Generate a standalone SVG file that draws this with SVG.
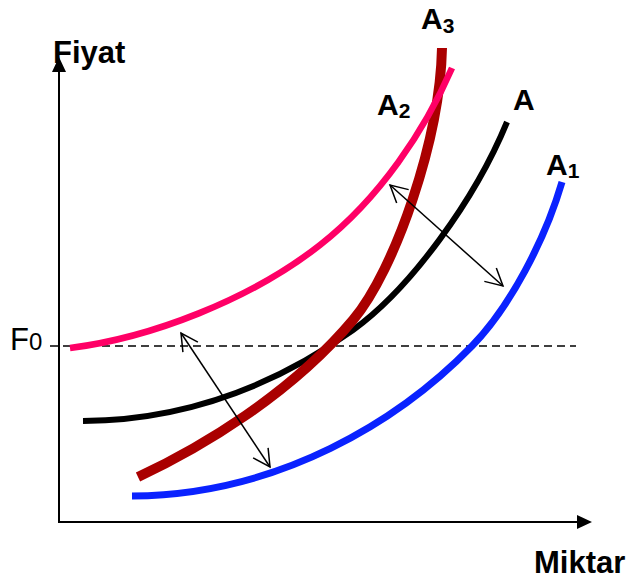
<svg xmlns="http://www.w3.org/2000/svg" width="635" height="581" viewBox="0 0 635 581">
<style>
.curve{fill:none;stroke-linecap:butt}
.lbl{font-family:"Liberation Sans",Arial,sans-serif;font-weight:bold;fill:#000}
.ax{stroke:#000;stroke-width:2;fill:none}
.conn{stroke:#000;stroke-width:1.5;fill:none;marker-start:url(#open);marker-end:url(#open)}
</style>
<defs>
<marker id="open" markerUnits="userSpaceOnUse" viewBox="-20 -12 24 24" markerWidth="24" markerHeight="24" refX="0" refY="0" orient="auto-start-reverse" overflow="visible">
<path d="M-17,-9 L0,0 L-17,9" fill="none" stroke="#000" stroke-width="1.5"/>
</marker>
</defs>
<rect width="635" height="581" fill="#fff"/>
<g id="axes">
<line class="ax" x1="59" y1="523" x2="59" y2="70"/>
<polygon points="59,57 52,72 66,72" fill="#000"/>
<line class="ax" x1="58" y1="522" x2="580" y2="522"/>
<polygon points="592,522 577,515 577,529" fill="#000"/>
<text class="lbl" x="53" y="63" font-size="31">Fiyat</text>
<text class="lbl" x="534" y="573" font-size="31">Miktar</text>
</g>
<g id="F0">
<line x1="50" y1="346" x2="576" y2="346" stroke="#000" stroke-width="1.5" stroke-dasharray="8,5"/>
<text x="10" y="350" font-family="Liberation Sans,Arial,sans-serif" font-size="31">F<tspan font-size="24">0</tspan></text>
</g>
<g id="curve-A">
<path class="curve" d="M83,421 C200,420 290,375 353,330 C410,289 475,200 507,122" stroke="#000" stroke-width="6"/>
<text class="lbl" x="513" y="110" font-size="30">A</text>
</g>
<g id="curve-A3">
<path class="curve" d="M138,477 C200,448 290,395 353,320 C395,270 440,140 442,48" stroke="#AA0000" stroke-width="10"/>
<text class="lbl" x="421" y="29" font-size="30">A<tspan font-size="21" dy="4">3</tspan></text>
</g>
<g id="curve-A2">
<path class="curve" d="M70,348 C150,338 250,300 320,245 C380,198 425,130 452,68" stroke="#FF0066" stroke-width="6.5"/>
<text class="lbl" x="377" y="115" font-size="30">A<tspan font-size="21" dy="3">2</tspan></text>
</g>
<g id="curve-A1">
<path class="curve" d="M132,496 C280,495 400,420 472,346 C510,307 545,240 562,182" stroke="#0A22FF" stroke-width="7"/>
<text class="lbl" x="546" y="175" font-size="30">A<tspan font-size="21" dy="3">1</tspan></text>
</g>
<g id="connectors">
<line class="conn" x1="181" y1="333" x2="270" y2="467"/>
<line class="conn" x1="390" y1="185" x2="503" y2="286"/>
</g>
</svg>
